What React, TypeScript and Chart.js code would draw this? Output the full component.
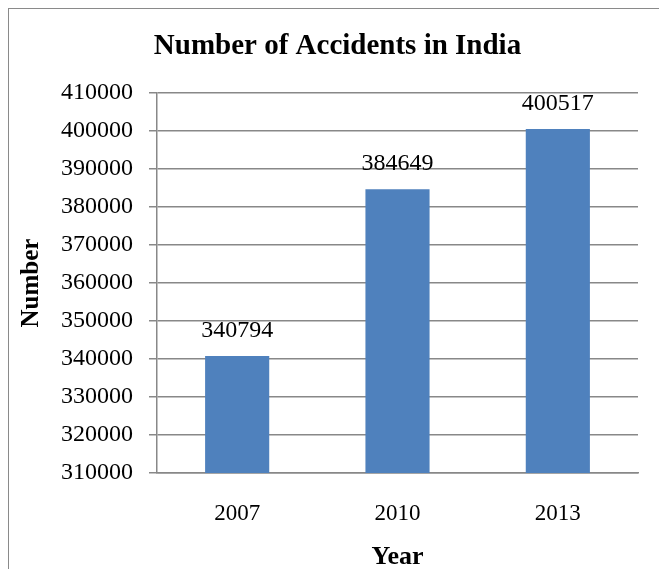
import React, { useEffect, useRef } from "react";
import { Chart, registerables } from "chart.js";

Chart.register(...registerables);

const chartTitle = "Number of Accidents in India";
const categories = ["2007", "2010", "2013"];
const accidents = [340794, 384649, 400517];
const yMin = 310000;
const yMax = 410000;
const yStep = 10000;
const xAxisTitle = "Year";
const yAxisTitle = "Number";

const SERIF = "'Liberation Serif', 'Times New Roman', serif";

const barLabels = {
  id: "barLabels",
  afterDatasetsDraw(chart: any) {
    const ctx = chart.ctx;
    const meta = chart.getDatasetMeta(0);
    ctx.save();
    ctx.font = `24px ${SERIF}`;
    ctx.fillStyle = "#000";
    ctx.textAlign = "center";
    ctx.textBaseline = "alphabetic";
    meta.data.forEach((el: any, i: number) => {
      const v = chart.data.datasets[0].data[i];
      ctx.fillText(String(v), el.x, el.y - 19);
    });
    ctx.restore();
  },
};

export default function App() {
  const ref = useRef<HTMLCanvasElement | null>(null);

  useEffect(() => {
    if (!ref.current) return;
    const chart = new Chart(ref.current, {
      type: "bar",
      data: {
        labels: categories,
        datasets: [
          {
            data: accidents,
            backgroundColor: "#4F81BD",
            borderWidth: 0,
            barPercentage: 0.4,
            categoryPercentage: 1,
            yAxisID: "y",
          },
        ],
      },
      options: {
        responsive: false,
        animation: false,
        devicePixelRatio: 1,
        layout: { padding: 0 },
        plugins: {
          legend: { display: false },
          tooltip: { enabled: false },
          title: {
            display: true,
            text: chartTitle,
            color: "#000",
            font: { family: SERIF, size: 29, weight: "bold", lineHeight: 1.2 },
            padding: { top: 20.6, bottom: 28.6 },
          },
        },
        scales: {
          x: {
            grid: { display: false, drawTicks: false },
            border: { display: true, color: "#888", width: 1.5 },
            ticks: {
              color: "#000",
              font: { family: SERIF, size: 23 },
              padding: 27,
            },
            title: {
              display: true,
              text: xAxisTitle,
              color: "#000",
              font: { family: SERIF, size: 26, weight: "bold", lineHeight: 0.92 },
              padding: { top: 0, bottom: 0 },
            },
            afterFit: (scale: any) => {
              scale.height = 96;
            },
          },
          y: {
            min: yMin,
            max: yMax,
            grid: { color: "#888", lineWidth: 1.5, tickLength: 8, drawTicks: true },
            border: { display: true, color: "#888", width: 1.5 },
            ticks: {
              stepSize: yStep,
              color: "#000",
              font: { family: SERIF, size: 24 },
              padding: 16,
              callback: (v: any) => String(v),
            },
            title: {
              display: true,
              text: yAxisTitle,
              color: "#000",
              font: { family: SERIF, size: 25, weight: "bold", lineHeight: 1 },
              padding: { top: 10.5, bottom: 0 },
            },
            afterFit: (scale: any) => {
              scale.width = 148;
            },
          },
          yRight: {
            position: "right",
            display: true,
            min: yMin,
            max: yMax,
            grid: { display: false, drawOnChartArea: false, drawTicks: false },
            border: { display: false },
            ticks: { display: false },
            afterFit: (scale: any) => {
              scale.width = 28;
            },
          },
        },
      },
      plugins: [barLabels],
    });
    return () => chart.destroy();
  }, []);

  return (
    <div
      style={{
        width: 657,
        height: 560,
        border: "1px solid #8a8a8a",
        background: "#fff",
      }}
    >
      <canvas ref={ref} width={657} height={560} style={{ display: "block" }} />
    </div>
  );
}
